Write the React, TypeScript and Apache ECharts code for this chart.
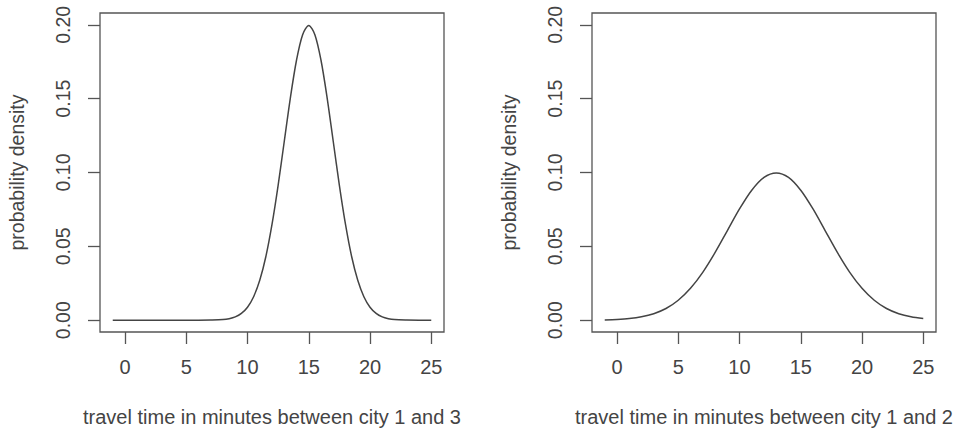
import React, { useEffect, useRef } from "react";
import * as echarts from "echarts";

// Left panel: travel time city 1 -> 3
const leftX = [-1, 3, 6, 7, 8, 8.5, 9, 9.5, 10, 10.5, 11, 11.5, 12, 12.5, 13, 13.5, 14, 14.5, 15, 15.5, 16, 16.5, 17, 17.5, 18, 18.5, 19, 19.5, 20, 20.5, 21, 21.5, 22, 23, 24, 25];
const leftY = [0, 0, 0, 0.0001, 0.0004, 0.001, 0.0022, 0.0046, 0.0088, 0.0159, 0.027, 0.0431, 0.0648, 0.0913, 0.121, 0.1506, 0.176, 0.1933, 0.1995, 0.1933, 0.176, 0.1506, 0.121, 0.0913, 0.0648, 0.0431, 0.027, 0.0159, 0.0088, 0.0046, 0.0022, 0.001, 0.0004, 0.0001, 0, 0];

// Right panel: travel time city 1 -> 2
const rightX = [-1, 0, 1, 2, 3, 4, 5, 6, 7, 8, 9, 10, 11, 12, 13, 14, 15, 16, 17, 18, 19, 20, 21, 22, 23, 24, 25];
const rightY = [0.0002, 0.0005, 0.0011, 0.0023, 0.0044, 0.0079, 0.0135, 0.0216, 0.0324, 0.0457, 0.0605, 0.0753, 0.088, 0.0967, 0.0997, 0.0967, 0.088, 0.0753, 0.0605, 0.0457, 0.0324, 0.0216, 0.0135, 0.0079, 0.0044, 0.0023, 0.0011];

const xTicks = [0, 5, 10, 15, 20, 25];
const yTicks = [0, 0.05, 0.1, 0.15, 0.2];
const xTitles = ["travel time in minutes between city 1 and 3", "travel time in minutes between city 1 and 2"];
const yTitle = "probability density";

const FONT = "'Liberation Sans', Arial, sans-serif";
const TEXT = "#444";
const LINE = "#555";
const FSX = 20;
const FSY = 19.5;

export default function App() {
  const ref = useRef<HTMLDivElement>(null);
  useEffect(() => {
    document.body.style.margin = "0";
    const chart = echarts.init(ref.current!, null, { renderer: "svg" });
    const grids = [
      { left: 100, top: 13, width: 344, height: 319 },
      { left: 592, top: 13, width: 344, height: 319 },
    ];
    const mkX = (i: number) => ({
      type: "value",
      gridIndex: i,
      min: -2.04,
      max: 26.04,
      name: xTitles[i],
      nameLocation: "middle",
      nameGap: 75,
      nameTextStyle: { fontFamily: FONT, fontSize: FSX, color: TEXT },
      axisLine: { show: false, onZero: false },
      axisTick: { show: true, length: 12, customValues: xTicks, lineStyle: { color: LINE, width: 1.3 } },
      axisLabel: { customValues: xTicks, margin: 25, fontFamily: FONT, fontSize: FSX, color: TEXT },
      splitLine: { show: false },
    });
    const mkY = (i: number) => ({
      type: "value",
      gridIndex: i,
      min: -0.008,
      max: 0.208,
      name: yTitle,
      nameLocation: "middle",
      nameGap: 73,
      nameTextStyle: { fontFamily: FONT, fontSize: FSY, color: TEXT },
      axisLine: { show: false, onZero: false },
      axisTick: { show: true, length: 12, customValues: yTicks, lineStyle: { color: LINE, width: 1.3 } },
      axisLabel: {
        customValues: yTicks,
        rotate: 90,
        margin: 27,
        fontFamily: FONT,
        fontSize: FSY,
        color: TEXT,
        formatter: (v: number) => v.toFixed(2),
      },
      splitLine: { show: false },
    });
    chart.setOption({
      animation: false,
      grid: grids.map((g) => ({
        ...g,
        containLabel: false,
        outerBoundsMode: "none",
        show: true,
        borderColor: LINE,
        borderWidth: 1.3,
        backgroundColor: "transparent",
      })),
      xAxis: [mkX(0), mkX(1)],
      yAxis: [mkY(0), mkY(1)],
      series: [
        {
          type: "line",
          xAxisIndex: 0,
          yAxisIndex: 0,
          data: leftX.map((x, k) => [x, leftY[k]]),
          showSymbol: false,
          smooth: 0.3,
          lineStyle: { color: "#444", width: 1.5 },
        },
        {
          type: "line",
          xAxisIndex: 1,
          yAxisIndex: 1,
          data: rightX.map((x, k) => [x, rightY[k]]),
          showSymbol: false,
          smooth: 0.3,
          lineStyle: { color: "#444", width: 1.5 },
        },
      ],
    });
    return () => chart.dispose();
  }, []);
  return <div ref={ref} style={{ width: 957, height: 431 }} />;
}
